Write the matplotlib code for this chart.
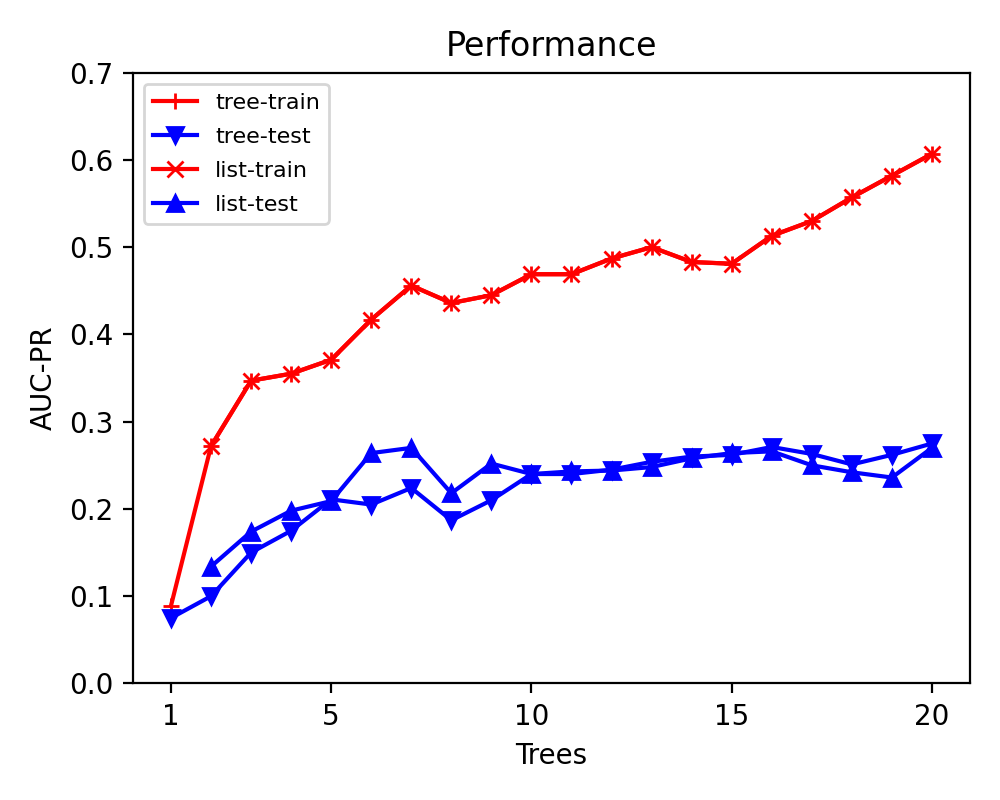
import matplotlib
matplotlib.use("Agg")
import matplotlib.pyplot as plt


trees = list(range(1, 21))
list_trees = list(range(2, 21))

tree_train = [0.089, 0.272, 0.347, 0.355, 0.371, 0.417, 0.456, 0.436, 0.445, 0.469,
              0.469, 0.487, 0.500, 0.483, 0.481, 0.513, 0.530, 0.557, 0.582, 0.607]
tree_test = [0.075, 0.100, 0.150, 0.175, 0.211, 0.205, 0.224, 0.187, 0.210, 0.240,
             0.240, 0.245, 0.254, 0.260, 0.262, 0.271, 0.263, 0.251, 0.262, 0.275]
list_train = [0.272, 0.347, 0.355, 0.371, 0.417, 0.456, 0.436, 0.445, 0.469,
              0.469, 0.487, 0.500, 0.483, 0.481, 0.513, 0.530, 0.557, 0.582, 0.607]
list_test = [0.134, 0.174, 0.198, 0.209, 0.264, 0.270, 0.218, 0.252, 0.240,
             0.243, 0.244, 0.248, 0.258, 0.264, 0.266, 0.250, 0.242, 0.236, 0.270]

xtick_vals = [1, 5, 10, 15, 20]


def main():
    plt.figure(figsize=(5, 4), dpi=200)
    plt.plot(trees, tree_train, color="red", marker="+", label="tree-train")
    plt.plot(trees, tree_test, color="blue", marker="v", label="tree-test")
    plt.plot(list_trees, list_train, color="red", marker="x", label="list-train")
    plt.plot(list_trees, list_test, color="blue", marker="^", label="list-test")
    plt.xticks(xtick_vals)
    plt.ylim(0, 0.7)
    plt.xlabel("Trees")
    plt.ylabel("AUC-PR")
    plt.title("Performance")
    plt.legend(loc="upper left", fontsize=8, labelspacing=0.63)
    plt.tight_layout()
    plt.savefig("out.png", dpi=200)


if __name__ == "__main__":
    main()
